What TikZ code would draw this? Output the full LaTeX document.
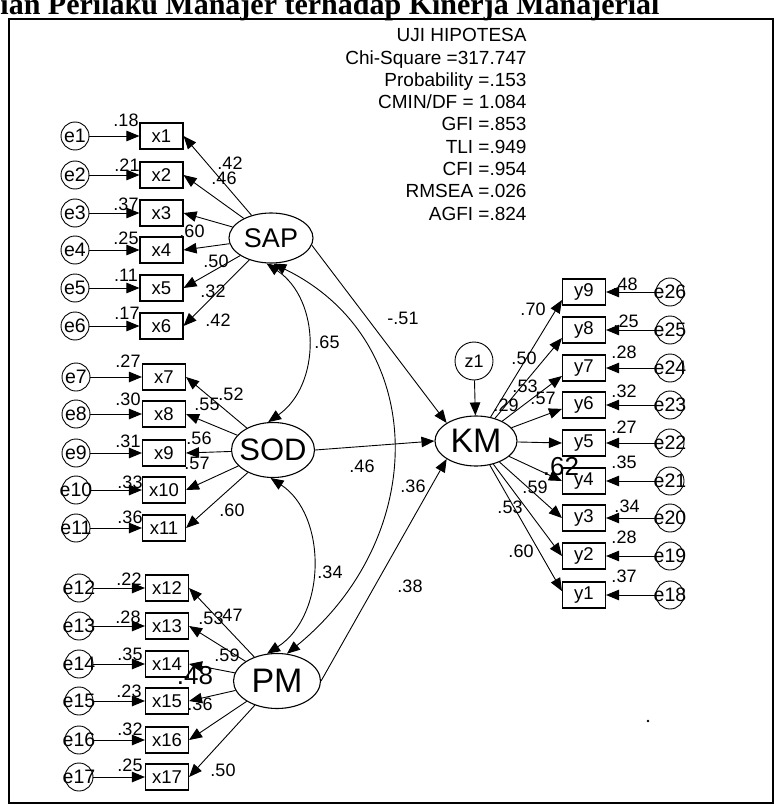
\documentclass[tikz,border=0pt]{standalone}
\usepackage{fontspec}
\setmainfont{Liberation Sans}
\newfontfamily\titlefont{Liberation Serif}
\usetikzlibrary{shapes.geometric,arrows.meta}
\begin{document}
\begin{tikzpicture}[x=1pt,y=-1pt,
  >={Triangle[length=13pt,width=10.5pt]},
  line width=0.9pt,
  obs/.style={draw, line width=1.1pt, rectangle, minimum width=43pt, minimum height=26pt, inner sep=0pt, font=\fontsize{18.5}{18.5}\selectfont},
  err/.style={draw, circle, minimum size=28pt, inner sep=0pt, label={[font=\fontsize{19.5}{19.5}\selectfont, inner sep=0pt]center:#1}},
  lat/.style={draw, line width=1.1pt, ellipse, inner sep=0pt},
  lab/.style={font=\fontsize{18}{18}\selectfont, inner sep=0pt},
  biglab/.style={font=\fontsize{26}{26}\selectfont, inner sep=0pt},
  stat/.style={font=\fontsize{19}{19}\selectfont, inner sep=0pt, anchor=base east},
]
\useasboundingbox (0,0) rectangle (776,805);

% title (cut at the top) and frame
\node[anchor=base west, inner sep=0pt, font=\titlefont\bfseries\fontsize{30}{30}\selectfont] (title) at (0,15) {ian Perilaku Manajer terhadap Kinerja Manajerial};
\draw[line width=1.6pt] (9,19) rectangle (773,803);
\fill (648,721) circle (1.3pt);

% fit statistics
\node[stat] (s0) at (527,42) {UJI HIPOTESA};
\node[stat] (s1) at (527,64.25) {Chi-Square =317.747};
\node[stat] (s2) at (527,86.5) {Probability =.153};
\node[stat] (s3) at (527,108.75) {CMIN/DF = 1.084};
\node[stat] (s4) at (527,131) {GFI =.853};
\node[stat] (s5) at (527,153.25) {TLI =.949};
\node[stat] (s6) at (527,175.5) {CFI =.954};
\node[stat] (s7) at (527,197.75) {RMSEA =.026};
\node[stat] (s8) at (527,220) {AGFI =.824};

% latent variables
\node[lat, minimum width=84pt, minimum height=50pt, label={[font=\fontsize{27}{27}\selectfont]center:SAP}] (SAP) at (271,238) {};
\node[lat, minimum width=83pt, minimum height=55pt, label={[font=\fontsize{31}{31}\selectfont]center:SOD}] (SOD) at (273,450) {};
\node[lat, minimum width=87pt, minimum height=55pt, label={[font=\fontsize{34}{34}\selectfont]center:PM}] (PM) at (277,681) {};
\node[lat, minimum width=82pt, minimum height=50pt, label={[font=\fontsize{34}{34}\selectfont]center:KM}] (KM) at (476,441) {};
\node[draw, circle, minimum size=38pt, inner sep=0pt, label={[font=\fontsize{18}{18}\selectfont]center:z1}] (z1) at (474,361) {};

% SAP indicators
\node[obs] (x1) at (161.5,136) {x1};
\node[obs] (x2) at (161.5,175) {x2};
\node[obs] (x3) at (161.5,213) {x3};
\node[obs] (x4) at (161.5,250) {x4};
\node[obs] (x5) at (161.5,288) {x5};
\node[obs] (x6) at (161.5,326) {x6};
\node[err=e1] (e1) at (75,136) {};
\node[err=e2] (e2) at (75,175) {};
\node[err=e3] (e3) at (75,213) {};
\node[err=e4] (e4) at (75,250) {};
\node[err=e5] (e5) at (75,288) {};
\node[err=e6] (e6) at (75,326) {};

% SOD indicators
\node[obs] (x7) at (164,377) {x7};
\node[obs] (x8) at (164,414) {x8};
\node[obs] (x9) at (164,453) {x9};
\node[obs] (x10) at (164,490) {x10};
\node[obs] (x11) at (164,528) {x11};
\node[err=e7] (e7) at (76,377) {};
\node[err=e8] (e8) at (76,414) {};
\node[err=e9] (e9) at (76,453) {};
\node[err=e10] (e10) at (76,490) {};
\node[err=e11] (e11) at (76,528) {};

% PM indicators
\node[obs] (x12) at (167,588) {x12};
\node[obs] (x13) at (167,626) {x13};
\node[obs] (x14) at (167,664) {x14};
\node[obs] (x15) at (167,701) {x15};
\node[obs] (x16) at (167,740) {x16};
\node[obs] (x17) at (167,777) {x17};
\node[err=e12] (e12) at (79,588) {};
\node[err=e13] (e13) at (79,626) {};
\node[err=e14] (e14) at (79,664) {};
\node[err=e15] (e15) at (79,701) {};
\node[err=e16] (e16) at (79,740) {};
\node[err=e17] (e17) at (79,777) {};

% KM indicators
\node[obs] (y9) at (584,292) {y9};
\node[obs] (y8) at (584,330) {y8};
\node[obs] (y7) at (584,368) {y7};
\node[obs] (y6) at (584,405) {y6};
\node[obs] (y5) at (584,443) {y5};
\node[obs] (y4) at (584,481) {y4};
\node[obs] (y3) at (584,518) {y3};
\node[obs] (y2) at (584,556) {y2};
\node[obs] (y1) at (584,595) {y1};
\node[err=e26] (e26) at (670,292) {};
\node[err=e25] (e25) at (670,330) {};
\node[err=e24] (e24) at (670,368) {};
\node[err=e23] (e23) at (670,405) {};
\node[err=e22] (e22) at (670,443) {};
\node[err=e21] (e21) at (670,481) {};
\node[err=e20] (e20) at (670,518) {};
\node[err=e19] (e19) at (670,556) {};
\node[err=e18] (e18) at (670,595) {};

% error arrows
\foreach \i in {1,...,17} \draw[->] (e\i) -- (x\i);
\draw[->] (e26) -- (y9);
\draw[->] (e25) -- (y8);
\draw[->] (e24) -- (y7);
\draw[->] (e23) -- (y6);
\draw[->] (e22) -- (y5);
\draw[->] (e21) -- (y4);
\draw[->] (e20) -- (y3);
\draw[->] (e19) -- (y2);
\draw[->] (e18) -- (y1);

% loadings
\foreach \i in {1,...,6} \draw[->] (SAP) -- (x\i.east);
\foreach \i in {7,...,11} \draw[->] (SOD) -- (x\i.east);
\foreach \i in {12,...,17} \draw[->] (PM) -- (x\i.east);
\draw[->] (KM) -- (y9.200);
\draw[->] (KM) -- (y8.200);
\draw[->] (KM) -- (y7.200);
\draw[->] (KM) -- (y6.190);
\draw[->] (KM) -- (y5.west);
\draw[->] (KM) -- (y4.west);
\draw[->] (KM) -- (y3.west);
\draw[->] (KM) -- (y2.west);
\draw[->] (KM) -- (y1.170);

% structural paths
\draw[->] (SAP.-10) -- (KM.north west);
\draw[->] (SOD.east) -- (KM.west);
\draw[->] (PM.east) -- (KM.south west);
\draw[->] (z1) -- (KM);

% covariances
\draw[<->] (SAP.-100) .. controls (321,300) and (321,385) .. (SOD.100);
\draw[<->] (SOD.-95) .. controls (327,515) and (327,615) .. (PM.110);
\draw[<->] (SAP.-85) .. controls (430,340) and (430,537) .. (PM.70);

% squared multiple correlations (left)
\node[lab] (r1) at (126,120) {.18};
\node[lab] (r2) at (127,165) {.21};
\node[lab] (r3) at (126,204) {.37};
\node[lab] (r4) at (126,238) {.25};
\node[lab] (r5) at (126,275) {.11};
\node[lab] (r6) at (127,313) {.17};
\node[lab] (r7) at (128,361) {.27};
\node[lab] (r8) at (128,399) {.30};
\node[lab] (r9) at (128,441) {.31};
\node[lab] (r10) at (130,482) {.33};
\node[lab] (r11) at (130,517) {.36};
\node[lab] (r12) at (129,579) {.22};
\node[lab] (r13) at (128,617) {.28};
\node[lab] (r14) at (130,654) {.35};
\node[lab] (r15) at (129,691) {.23};
\node[lab] (r16) at (130,729) {.32};
\node[lab] (r17) at (130,765) {.25};

% squared multiple correlations (right)
\node[lab] (q9) at (625,284) {.48};
\node[lab] (q8) at (626,321) {.25};
\node[lab] (q7) at (624,352) {.28};
\node[lab] (q6) at (624,391) {.32};
\node[lab] (q5) at (624,427) {.27};
\node[lab] (q4) at (624,462) {.35};
\node[lab] (q3) at (627,506) {.34};
\node[lab] (q2) at (624,537) {.28};
\node[lab] (q1) at (624,576) {.37};

% loading labels (left)
\node[lab] (l1) at (230,163) {.42};
\node[lab] (l2) at (224,178) {.46};
\node[lab] (l3) at (192,231) {.60};
\node[lab] (l4) at (216,261) {.50};
\node[lab] (l5) at (213,291) {.32};
\node[lab] (l6) at (218,320) {.42};
\node[lab] (l7) at (231,394) {.52};
\node[lab] (l8) at (207,404) {.55};
\node[lab] (l9) at (199,438) {.56};
\node[lab] (l10) at (197,463) {.57};
\node[lab] (l11) at (232,510) {.60};
\node[lab] (l12) at (211,618) {.53};
\node[lab] (l13) at (230,615) {.47};
\node[lab] (l14) at (227,655) {.59};
\node[biglab] (l15) at (195,676) {.48};
\node[lab] (l16) at (200,704) {.36};
\node[lab] (l17) at (223,770) {.50};

% loading labels (right)
\node[lab] (m9) at (533,309) {.70};
\node[lab] (m8) at (524,358) {.50};
\node[lab] (m7) at (525,386) {.53};
\node[lab] (m6) at (506,405) {.29};
\node[lab] (m5) at (543,398) {.57};
\node[biglab] (m4) at (561,467) {.62};
\node[lab] (m3) at (535,487) {.59};
\node[lab] (m2) at (510,507) {.53};
\node[lab] (m1) at (521,551) {.60};

% structural and covariance labels
\node[lab] (p1) at (403,318) {-.51};
\node[lab] (p2) at (327,342) {.65};
\node[lab] (p3) at (362,466) {.46};
\node[lab] (p4) at (413,486) {.36};
\node[lab] (p5) at (330,572) {.34};
\node[lab] (p6) at (410,586) {.38};
\end{tikzpicture}
\end{document}
